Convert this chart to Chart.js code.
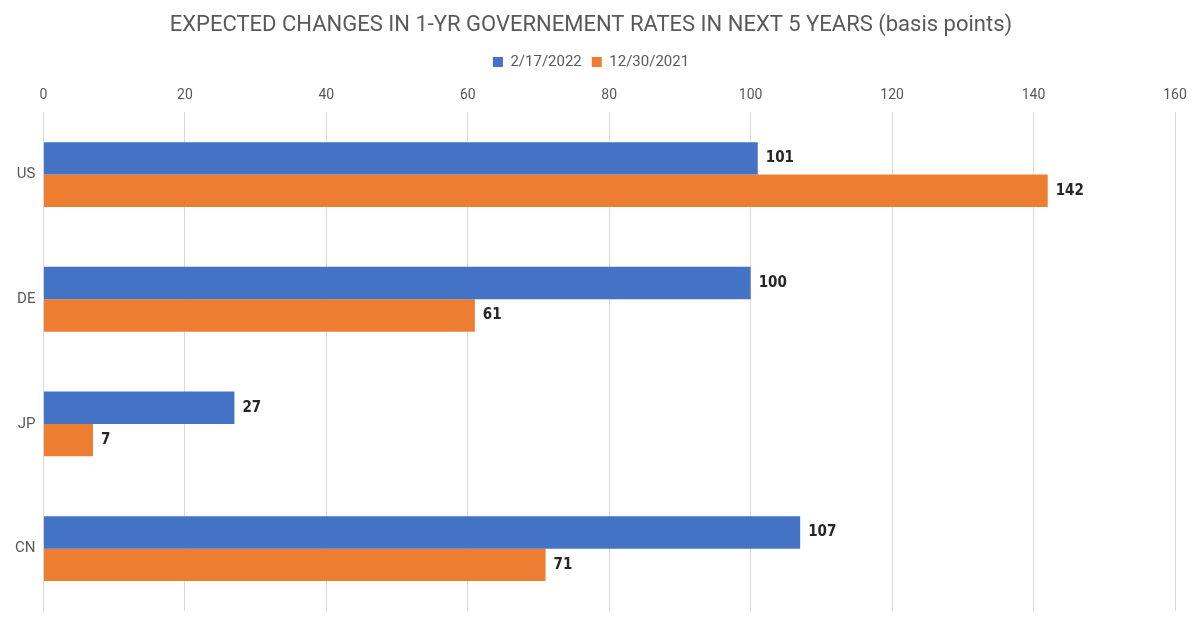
<!DOCTYPE html>
<html>
<head>
<meta charset="utf-8">
<script src="https://cdn.jsdelivr.net/npm/chart.js@4"></script>
<style>
  html, body { margin: 0; padding: 0; background: #fff; }
  #wrap { width: 1200px; height: 628px; }
</style>
</head>
<body>
<div id="wrap"><canvas id="myChart" width="1200" height="628"></canvas></div>
<script>
// dados do gráfico
var categories = ['US', 'DE', 'JP', 'CN'];
var seriesNames = ['2/17/2022', '12/30/2021'];
var values2022 = [101, 100, 27, 107];
var values2021 = [142, 61, 7, 71];
var xTicks = [0, 20, 40, 60, 80, 100, 120, 140, 160];

var narrow = '"DejaVu Sans Condensed", "Liberation Sans Narrow", sans-serif';

// rótulos de valor no fim de cada barra
var valueLabels = {
  id: 'valueLabels',
  afterDatasetsDraw: function(chart) {
    var ctx = chart.ctx;
    ctx.save();
    ctx.font = 'bold 15px ' + narrow;
    ctx.fillStyle = '#262626';
    ctx.textBaseline = 'middle';
    ctx.textAlign = 'left';
    chart.data.datasets.forEach(function(ds, i) {
      chart.getDatasetMeta(i).data.forEach(function(bar, j) {
        ctx.fillText(ds.data[j], bar.x + 8, bar.y);
      });
    });
    ctx.restore();
  }
};

var ctx = document.getElementById('myChart').getContext('2d');
var chart = new Chart(ctx, {
  type: 'bar',
  data: {
    labels: categories,
    datasets: [{
      label: seriesNames[0],
      data: values2022,
      backgroundColor: '#4472C4',
      categoryPercentage: 0.52,
      barPercentage: 1
    }, {
      label: seriesNames[1],
      data: values2021,
      backgroundColor: '#ED7D31',
      categoryPercentage: 0.52,
      barPercentage: 1
    }]
  },
  options: {
    indexAxis: 'y',
    responsive: false,
    animation: false,
    layout: { padding: { left: 7, right: 25, top: 0, bottom: 0 } },
    plugins: {
      title: {
        display: true,
        text: 'EXPECTED CHANGES IN 1-YR GOVERNEMENT RATES IN NEXT 5 YEARS (basis points)',
        color: '#595959',
        font: { family: 'Roboto, sans-serif', size: 22, weight: 'normal' },
        padding: { top: 12, bottom: 6 }
      },
      legend: {
        display: true,
        labels: {
          color: '#595959',
          font: { family: 'Roboto, sans-serif', size: 15 },
          boxWidth: 10,
          boxHeight: 10,
          padding: 10
        }
      },
      tooltip: { enabled: false }
    },
    scales: {
      x: {
        position: 'top',
        min: 0,
        max: 160,
        afterBuildTicks: function(axis) {
          axis.ticks = xTicks.map(function(v) { return { value: v }; });
        },
        grid: { color: '#D9D9D9', drawTicks: false },
        border: { display: false },
        ticks: {
          color: '#595959',
          font: { family: 'Roboto, sans-serif', size: 14 },
          padding: 8
        }
      },
      y: {
        grid: { display: false, drawTicks: false },
        border: { display: true, color: '#D9D9D9' },
        ticks: {
          color: '#595959',
          font: { family: 'Roboto, sans-serif', size: 15 },
          padding: 8
        }
      }
    }
  },
  plugins: [valueLabels]
});
</script>
</body>
</html>
